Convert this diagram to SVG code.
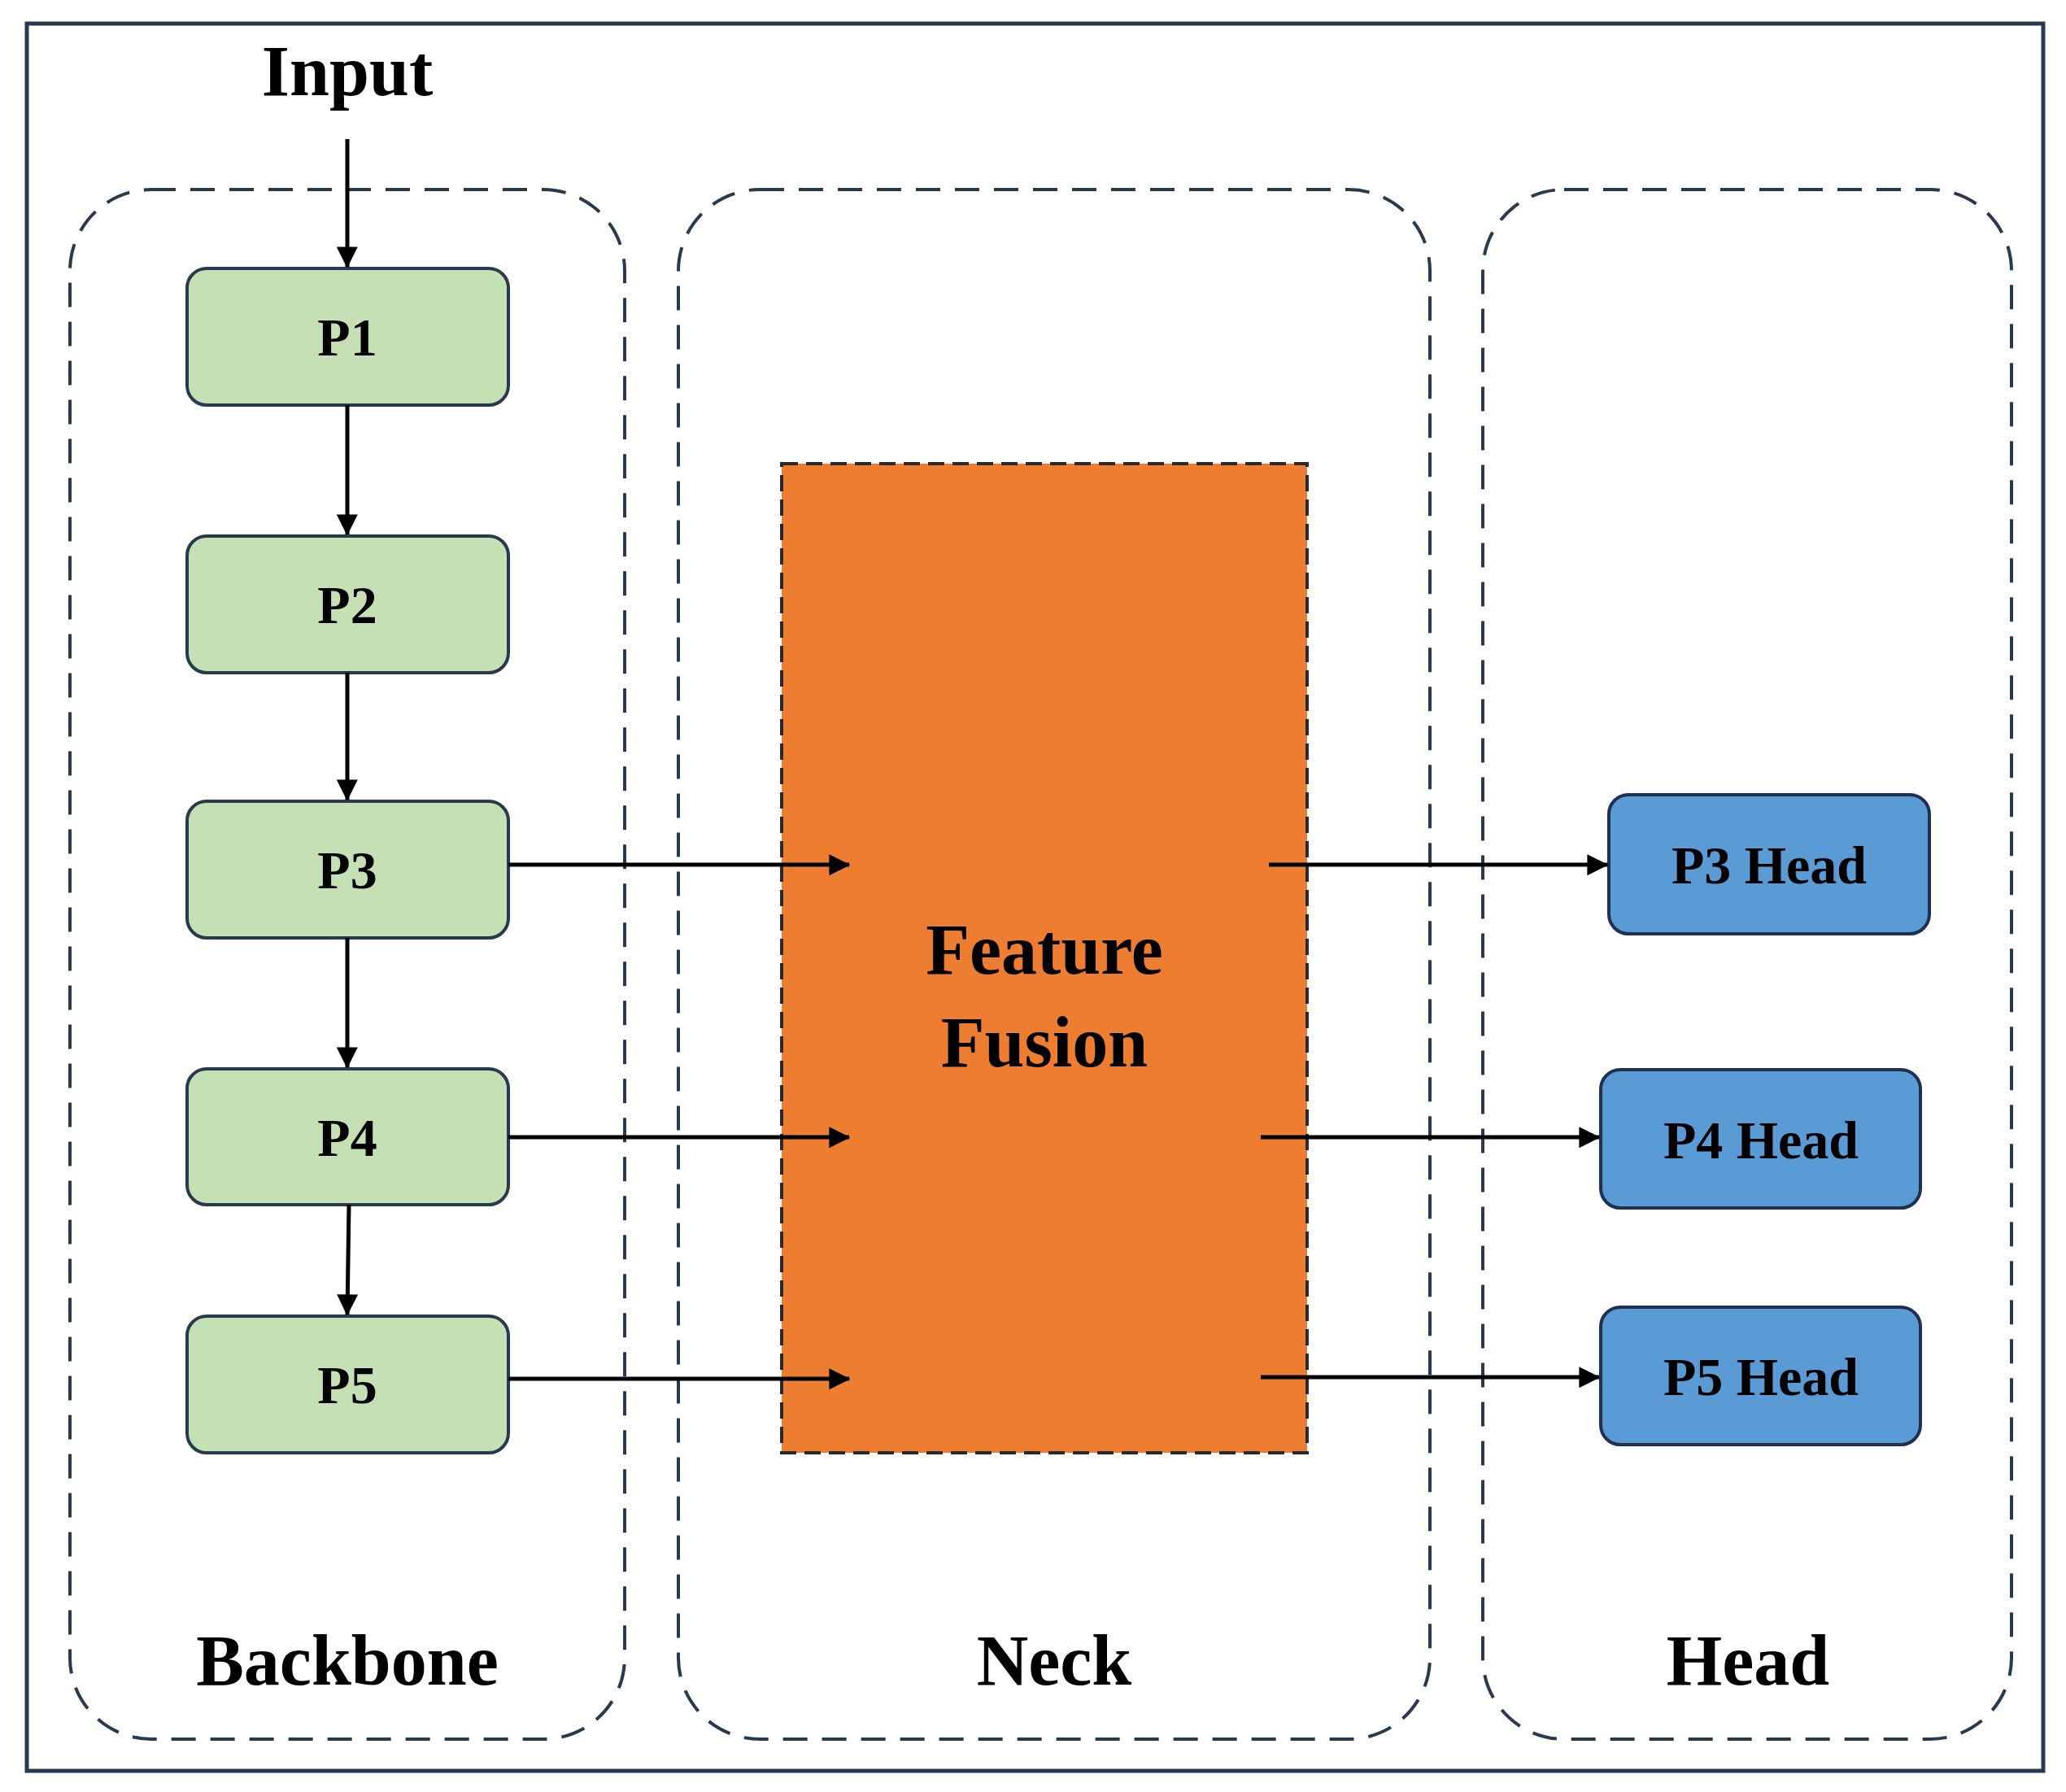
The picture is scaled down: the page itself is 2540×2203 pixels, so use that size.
<svg xmlns="http://www.w3.org/2000/svg" width="2540" height="2203" viewBox="0 0 2540 2203">
<defs>
<marker id="ah" markerWidth="10" markerHeight="10" refX="9" refY="5" orient="auto" markerUnits="userSpaceOnUse" viewBox="0 0 10 10" style="overflow:visible"><path d="M0,0 L10,5 L0,10 z" fill="#000" transform="scale(2.6) translate(-6,-3)"/></marker>
<style>
text{font-family:"Liberation Serif","Times New Roman",serif;font-weight:bold;text-anchor:middle;fill:#000}
.grp{fill:none;stroke:#2a3a4e;stroke-width:4;stroke-dasharray:30 18}
.bb{fill:#c5e0b4;stroke:#2a3a4e;stroke-width:4}
.hd{fill:#5b9bd5;stroke:#1f3050;stroke-width:4}
.lbl{font-size:66px}
.big{font-size:88px}
.c{stroke:#000;stroke-width:5;fill:none;marker-end:url(#ah)}
</style>
</defs>
<rect width="2540" height="2203" fill="#fff"/>
<rect x="33" y="29" width="2479" height="2148" fill="none" stroke="#2a3a4e" stroke-width="5"/>
<g id="backbone"><rect class="grp" x="86" y="233" width="682" height="1905" rx="100"/><text class="big" x="427" y="2071">Backbone</text></g>
<g id="neck"><rect class="grp" x="834" y="233" width="924" height="1905" rx="100"/><text class="big" x="1296" y="2071">Neck</text></g>
<g id="head"><rect class="grp" x="1823" y="233" width="650" height="1905" rx="100"/><text class="big" x="2149" y="2071">Head</text></g>
<text id="input" class="big" x="427" y="117">Input</text>
<g id="fusion"><rect x="961" y="570" width="646" height="1216" fill="#ed7d31" stroke="#2a2a2a" stroke-width="4" stroke-dasharray="20 10"/><text class="big" x="1284" y="1197">Feature</text><text class="big" x="1284" y="1311">Fusion</text></g>
<g id="P1"><rect class="bb" x="230" y="330" width="395" height="168" rx="24"/><text class="lbl" x="427" y="437">P1</text></g>
<g id="P2"><rect class="bb" x="230" y="659" width="395" height="168" rx="24"/><text class="lbl" x="427" y="766">P2</text></g>
<g id="P3"><rect class="bb" x="230" y="985" width="395" height="168" rx="24"/><text class="lbl" x="427" y="1092">P3</text></g>
<g id="P4"><rect class="bb" x="230" y="1314" width="395" height="167" rx="24"/><text class="lbl" x="427" y="1421">P4</text></g>
<g id="P5"><rect class="bb" x="230" y="1618" width="395" height="168" rx="24"/><text class="lbl" x="427" y="1725">P5</text></g>
<g id="P3H"><rect class="hd" x="1978" y="977" width="394" height="171" rx="24"/><text class="lbl" x="2175" y="1086">P3 Head</text></g>
<g id="P4H"><rect class="hd" x="1968" y="1315" width="393" height="170" rx="24"/><text class="lbl" x="2165" y="1424">P4 Head</text></g>
<g id="P5H"><rect class="hd" x="1968" y="1607" width="393" height="169" rx="24"/><text class="lbl" x="2165" y="1715">P5 Head</text></g>
<g id="connectors">
<line class="c" x1="427" y1="171" x2="427" y2="328"/>
<line class="c" x1="427" y1="498" x2="427" y2="657"/>
<line class="c" x1="427" y1="827" x2="427" y2="983"/>
<line class="c" x1="427" y1="1153" x2="427" y2="1312"/>
<line class="c" x1="429" y1="1481" x2="427" y2="1616"/>
<line class="c" x1="625" y1="1063" x2="1044" y2="1063"/>
<line class="c" x1="625" y1="1398" x2="1044" y2="1398"/>
<line class="c" x1="625" y1="1695" x2="1044" y2="1695"/>
<line class="c" x1="1560" y1="1063" x2="1976" y2="1063"/>
<line class="c" x1="1550" y1="1398" x2="1966" y2="1398"/>
<line class="c" x1="1550" y1="1693" x2="1966" y2="1693"/>
</g>
</svg>
